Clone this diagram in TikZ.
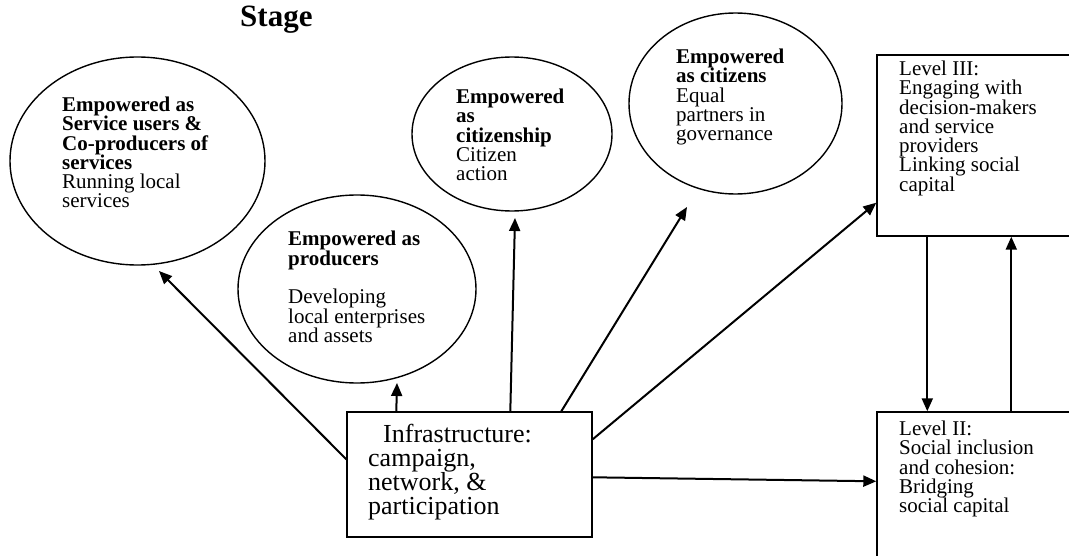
\documentclass[tikz,border=0pt]{standalone}
\usepackage{fontspec}
\setmainfont{Liberation Serif}
\usetikzlibrary{shapes.geometric,arrows.meta}
\tikzset{
  oval/.style={draw, ellipse, line width=1.4pt, inner sep=0pt},
  boxed/.style={draw, rectangle, line width=1.4pt, inner sep=0pt},
  txt/.style={anchor=north west, inner sep=0pt, align=left, font=\fontsize{21}{19.3}\selectfont},
  arr/.style={line width=2pt, -{Triangle[length=13pt,width=11pt]}},
}
\begin{document}
\begin{tikzpicture}[x=1pt,y=-1pt]
\useasboundingbox (0,0) rectangle (1069,556);
\clip (0,0) rectangle (1069,556);
% title
\node[anchor=base west, inner sep=0pt, font=\fontsize{31}{33}\selectfont\bfseries] (title) at (240,27) {Stage};
% ellipses
\node[oval, minimum width=255pt, minimum height=208pt] (e1) at (137.5,161) {};
\node[oval, minimum width=238pt, minimum height=188pt] (e2) at (357,289) {};
\node[oval, minimum width=200pt, minimum height=154pt] (e3) at (512,134) {};
\node[oval, minimum width=213pt, minimum height=181pt] (e4) at (735.5,103.5) {};
% boxes
\node[boxed, minimum width=245pt, minimum height=125pt] (infra) at (469.5,474.5) {};
\node[boxed, minimum width=208pt, minimum height=181pt] (l3) at (981,145.5) {};
\node[boxed, minimum width=208pt, minimum height=158pt] (l2) at (981,491) {};
% texts
\node[txt] (t1) at (62,96.7) {\textbf{Empowered as}\\\textbf{Service users \&}\\\textbf{Co-producers of}\\\textbf{services}\\Running local\\services};
\node[txt] (t2) at (288,231.2) {\textbf{Empowered as}\\\textbf{producers}\\\mbox{}\\Developing\\local enterprises\\and assets};
\node[txt] (t3) at (456,88.7) {\textbf{Empowered}\\\textbf{as}\\\textbf{citizenship}\\Citizen\\action};
\node[txt] (t4) at (676,48.7) {\textbf{Empowered}\\\textbf{as citizens}\\Equal\\partners in\\governance};
\node[txt] (t5) at (899,60.7) {Level III:\\Engaging with\\decision-makers\\and service\\providers\\Linking social\\capital};
\node[txt] (t6) at (899,420.7) {Level II:\\Social inclusion\\and cohesion:\\Bridging\\social capital};
\node[txt, font=\fontsize{26}{24}\selectfont] (t7) at (368,424.3) {\hspace*{15pt}Infrastructure:\\campaign,\\network, \&\\participation};
% arrow end points
\coordinate (a1) at (159,271);
\coordinate (a2) at (397,383);
\coordinate (a3) at (515,218);
\coordinate (a4) at (687,207);
% connectors
\draw[arr] ([yshift=-48pt]infra.north west) -- (a1);
\draw[arr] ([xshift=50pt]infra.north west) -- (a2);
\draw[arr] ([xshift=164pt]infra.north west) -- (a3);
\draw[arr] ([xshift=215pt]infra.north west) -- (a4);
\draw[arr] ([yshift=-28pt]infra.north east) -- ([yshift=34pt]l3.south west);
\draw[arr] ([yshift=-66pt]infra.north east) -- ([yshift=-70pt]l2.north west);
\draw[arr] ([xshift=51pt]l3.south west) -- ([xshift=51pt]l2.north west);
\draw[arr] ([xshift=135pt]l2.north west) -- ([xshift=135pt]l3.south west);
\end{tikzpicture}
\end{document}
